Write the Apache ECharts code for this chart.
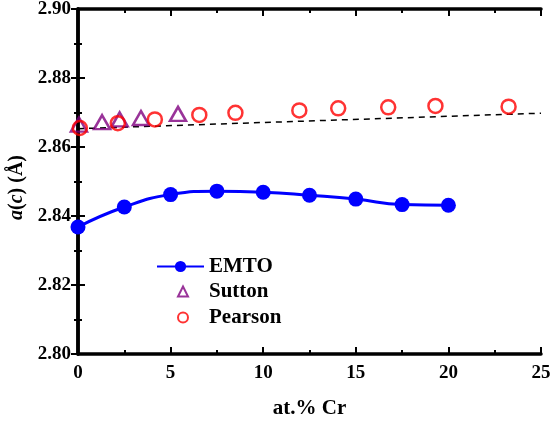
<!DOCTYPE html>
<html><head><meta charset="utf-8">
<script src="https://cdn.jsdelivr.net/npm/echarts@6/dist/echarts.min.js"></script>
<style>html,body{margin:0;padding:0;background:#fff}#c{width:551px;height:422px}</style>
</head><body><div id="c"></div>
<script>
const emtoX = [0, 2.5, 5, 7.5, 10, 12.5, 15, 17.5, 20];
const emtoY = [2.8368, 2.8426, 2.8462, 2.8472, 2.8469, 2.8460, 2.8449, 2.8433, 2.8431];
const suttonX = [0.05, 1.3, 2.25, 3.4, 5.4];
const suttonY = [2.8665, 2.8672, 2.8680, 2.8684, 2.8696];
const pearsonX = [0.1, 2.15, 4.15, 6.55, 8.5, 11.95, 14.05, 16.75, 19.3, 23.25];
const pearsonY = [2.8655, 2.8669, 2.8680, 2.8693, 2.8699, 2.8706, 2.8712, 2.8715, 2.8719, 2.8717];
const fitX = [0, 25];
const fitY = [2.8653, 2.8698];
const xTicks = [0, 5, 10, 15, 20, 25];
const yTicks = [2.80, 2.82, 2.84, 2.86, 2.88, 2.90];

const F = '"Liberation Serif", "Times New Roman", serif';
const zip = (a, b) => a.map((v, i) => [v, b[i]]);
const chart = echarts.init(document.getElementById('c'), null, {renderer: 'canvas'});
const axLine = {show: true, lineStyle: {color: '#000', width: 3.5}};
const baseX = {
  type: 'value', min: 0, max: 25, interval: 5, splitLine: {show: false},
  axisLine: axLine,
  axisTick: {show: true, inside: true, length: 7, lineStyle: {color: '#000', width: 2}},
  minorTick: {show: true, splitNumber: 2, length: 4, lineStyle: {color: '#000', width: 2}},
};
const baseY = {
  type: 'value', min: 2.80, max: 2.90, interval: 0.02, splitLine: {show: false},
  axisLine: axLine,
  axisTick: {show: true, inside: true, length: 7, lineStyle: {color: '#000', width: 2}},
  minorTick: {show: true, splitNumber: 2, length: 4, lineStyle: {color: '#000', width: 2}},
};
const legText = {fontFamily: F, fontWeight: 'bold', fontSize: 21, color: '#000'};
chart.setOption({
  animation: false,
  backgroundColor: '#fff',
  grid: {left: 78, right: 10, top: 9, bottom: 68, containLabel: false, outerBoundsMode: 'none'},
  xAxis: [
    Object.assign({}, baseX, {position: 'bottom', name: 'at.% Cr', nameLocation: 'middle', nameGap: 44,
      nameTextStyle: {fontFamily: F, fontWeight: 'bold', fontSize: 21, color: '#000'},
      axisLabel: {show: true, margin: 10, fontFamily: F, fontWeight: 'bold', fontSize: 19, color: '#000',
        formatter: v => xTicks.includes(v) ? String(v) : ''}}),
    Object.assign({}, baseX, {position: 'top', axisLabel: {show: false}})
  ],
  yAxis: [
    Object.assign({}, baseY, {position: 'left', name: '{i|a}({i|c}) (Å)', nameLocation: 'middle', nameGap: 47,
      nameTextStyle: {fontFamily: F, fontWeight: 'bold', fontSize: 20, color: '#000', padding: [0, 12, 0, 0],
        rich: {i: {fontFamily: F, fontWeight: 'bold', fontStyle: 'italic', fontSize: 20, color: '#000'}}},
      axisLabel: {show: true, margin: 7, fontFamily: F, fontWeight: 'bold', fontSize: 19, color: '#000',
        formatter: v => yTicks.some(t => Math.abs(t - v) < 1e-9) ? v.toFixed(2) : ''}}),
    Object.assign({}, baseY, {position: 'right', axisLabel: {show: false}})
  ],
  legend: [
    {data: ['EMTO'], left: 151, top: 251, itemWidth: 47, itemHeight: 14, itemGap: 0,
      textStyle: legText},
    {data: ['Sutton'], left: 172, top: 276, itemWidth: 10, itemHeight: 10, itemGap: 0,
      itemStyle: {borderWidth: 2},
      textStyle: Object.assign({padding: [0, 0, 0, 16]}, legText)},
    {data: ['Pearson'], left: 172, top: 302, itemWidth: 10, itemHeight: 10, itemGap: 0,
      itemStyle: {borderWidth: 2},
      textStyle: Object.assign({padding: [0, 0, 0, 16]}, legText)}
  ],
  series: [
    {name: 'fit', type: 'line', data: zip(fitX, fitY), symbol: 'none', silent: true,
      lineStyle: {color: '#000', width: 1.5, type: [6, 5]}, z: 1},
    {name: 'EMTO', type: 'line', data: zip(emtoX, emtoY), smooth: true, symbol: 'circle', symbolSize: 15,
      lineStyle: {color: '#0000ff', width: 3}, itemStyle: {color: '#0000ff'}, z: 3},
    {name: 'Sutton', type: 'scatter', data: zip(suttonX, suttonY), symbol: 'triangle', symbolSize: [16, 14],
      itemStyle: {color: 'rgba(0,0,0,0)', borderColor: '#800080', borderWidth: 2.5}, z: 4},
    {name: 'Pearson', type: 'scatter', data: zip(pearsonX, pearsonY), symbol: 'circle', symbolSize: 14,
      itemStyle: {color: 'rgba(0,0,0,0)', borderColor: '#ff0000', borderWidth: 2.5}, z: 5}
  ]
});
</script></body></html>
